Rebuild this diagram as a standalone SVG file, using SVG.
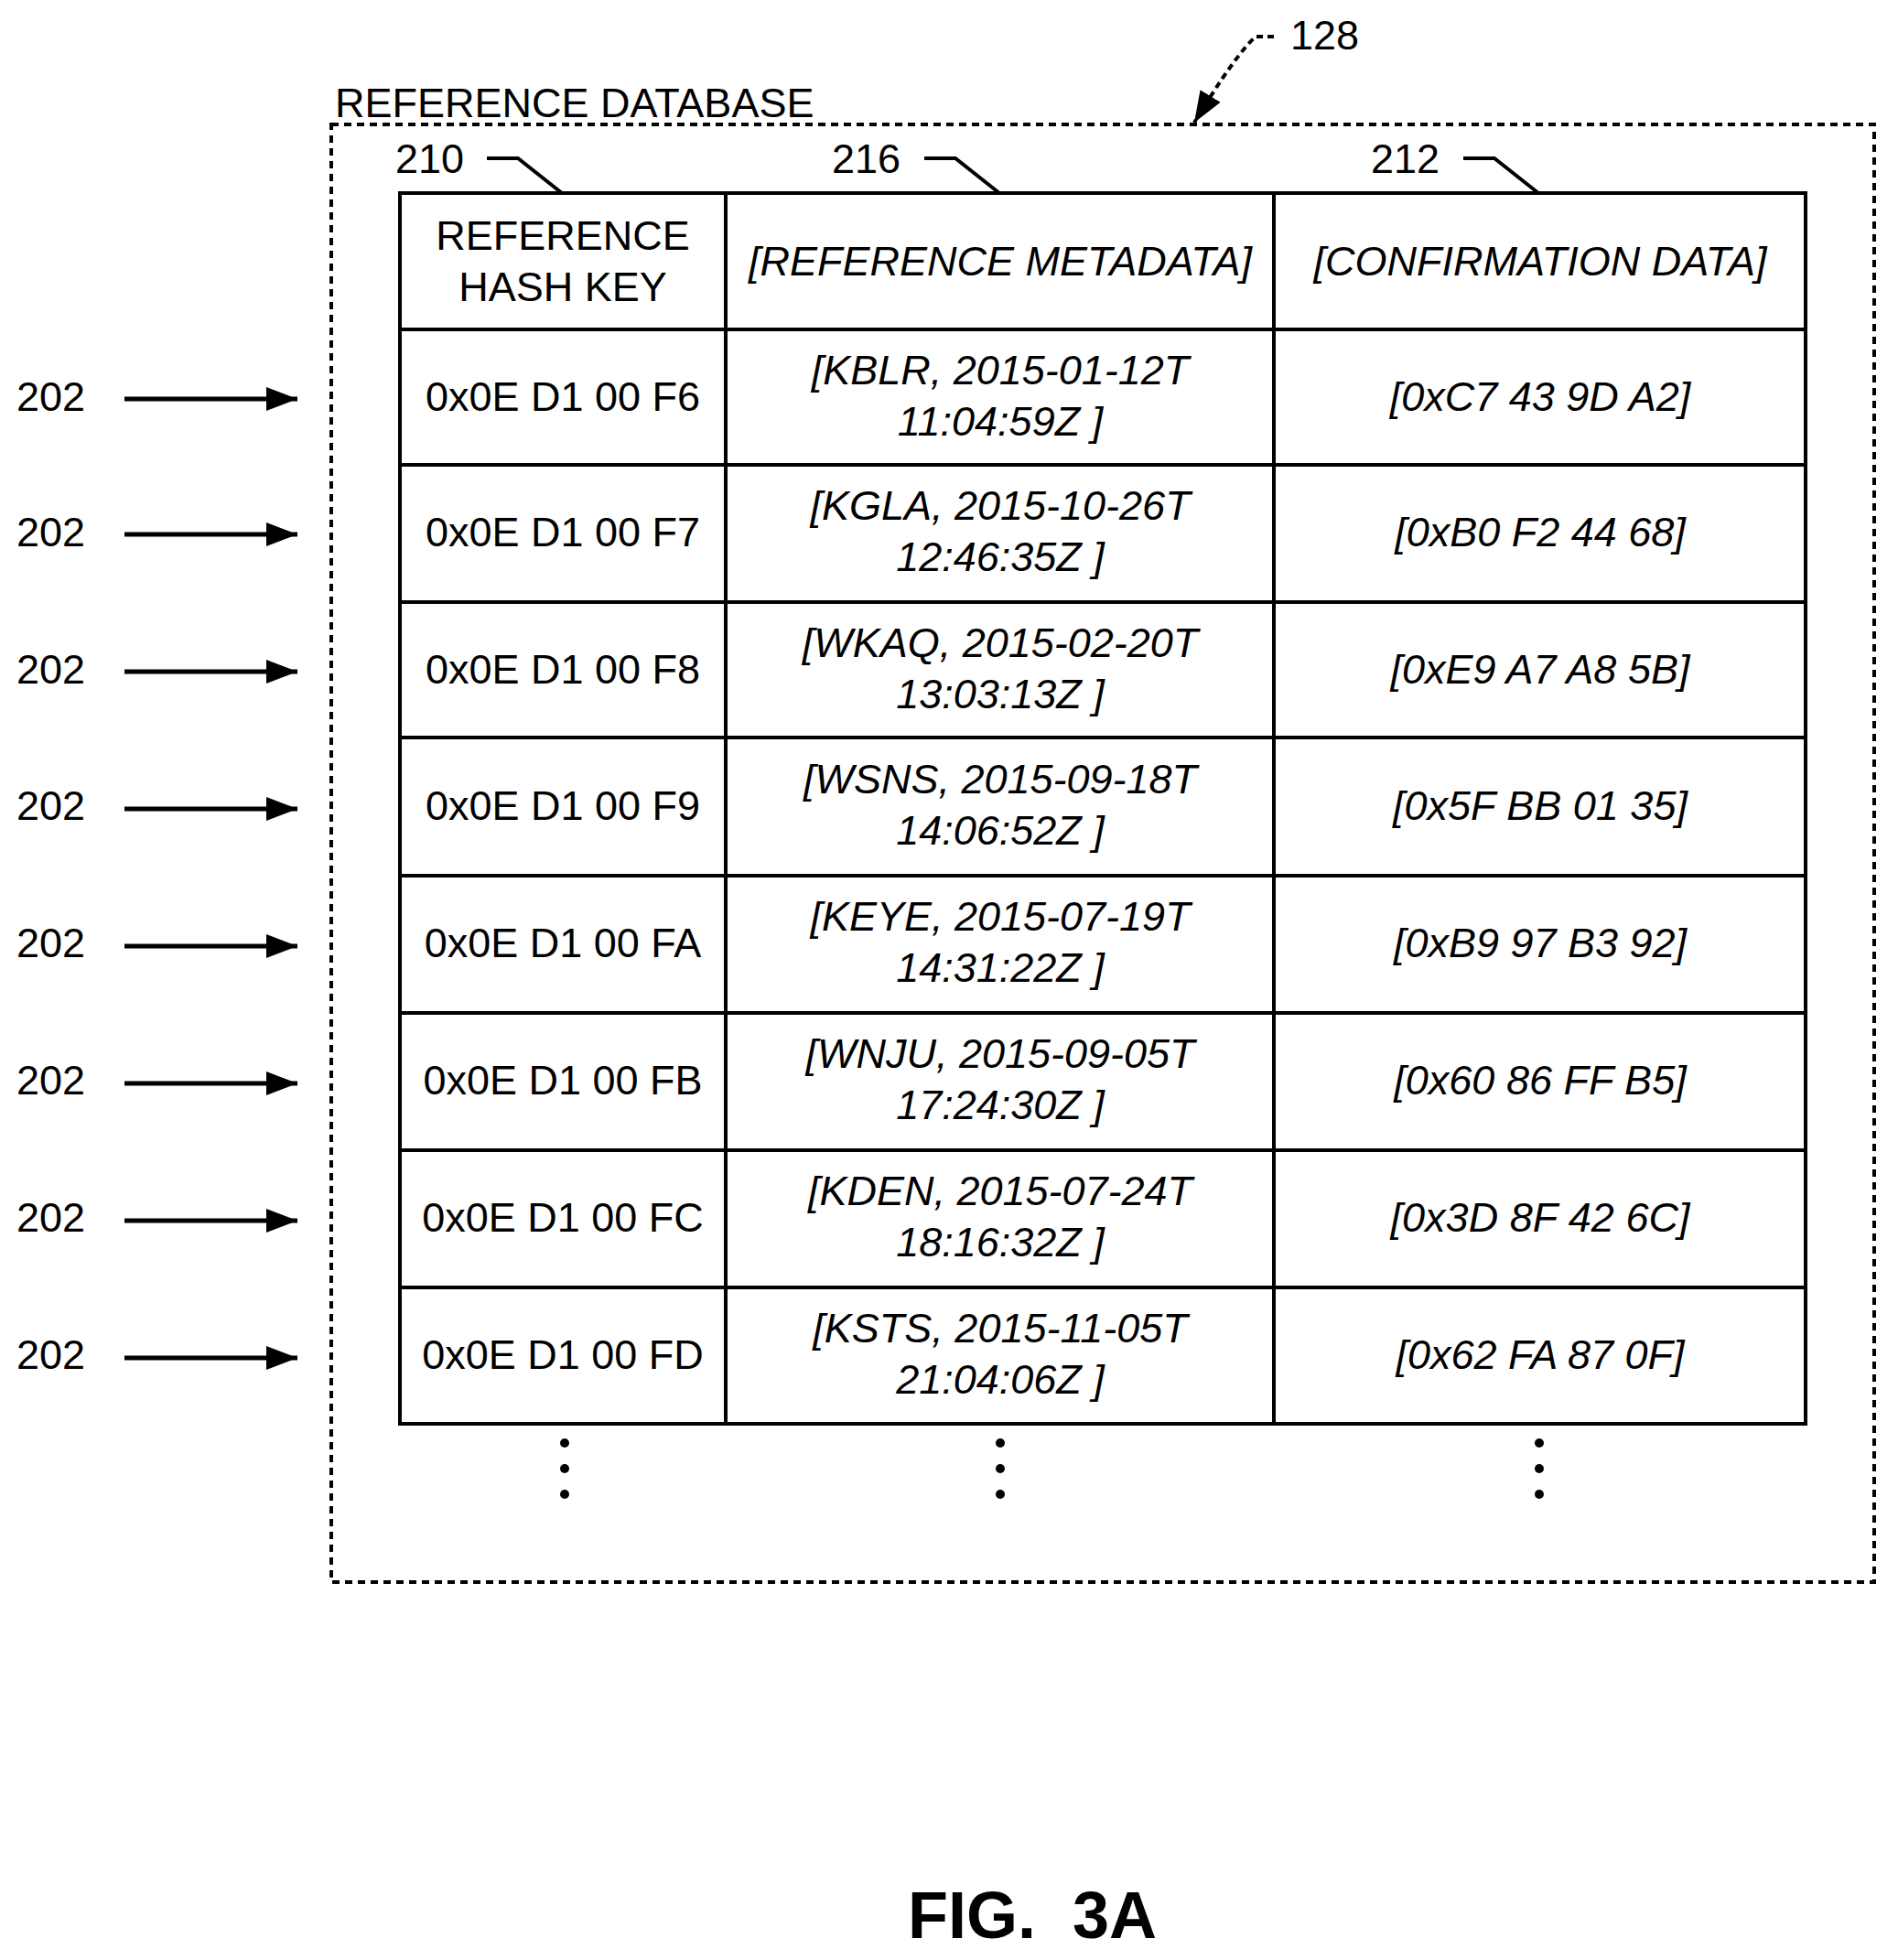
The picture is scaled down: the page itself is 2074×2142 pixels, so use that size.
<svg xmlns="http://www.w3.org/2000/svg" width="2074" height="2142" viewBox="0 0 2074 2142">
<style>
text{font-family:"Liberation Sans",Arial,sans-serif;font-size:45px;fill:#000}
.c{text-anchor:middle}
.i{font-style:italic}
.g line,.g rect{stroke:#000;stroke-width:4;fill:none}
.ln{stroke:#000;stroke-width:4;fill:none}
.ar{stroke:#000;stroke-width:5;fill:none}
</style>
<defs>
<marker id="ah2" viewBox="0 0 10 10" refX="10" refY="5" markerWidth="34" markerHeight="26" orient="auto" markerUnits="userSpaceOnUse" preserveAspectRatio="none"><path d="M0,0 L10,5 L0,10 z" fill="#000"/></marker>
</defs>
<rect width="2074" height="2142" fill="#fff"/>
<g id="database">
<rect x="362" y="136" width="1686" height="1593" fill="none" stroke="#000" stroke-width="4" stroke-dasharray="8,6"/>
<text x="366" y="128">REFERENCE DATABASE</text>
</g>
<g id="ref128">
<text x="1410" y="54">128</text>
<path d="M1392,40 L1372,40 Q1350,60 1305,134" fill="none" stroke="#000" stroke-width="4" stroke-dasharray="7,5" marker-end="url(#ah2)"/>
</g>
<g id="table" class="g">
<rect x="437" y="211" width="1536" height="1345"/>
<line x1="793" y1="211" x2="793" y2="1556"/>
<line x1="1392" y1="211" x2="1392" y2="1556"/>
<line x1="437" y1="360" x2="1973" y2="360"/>
<line x1="437" y1="508" x2="1973" y2="508"/>
<line x1="437" y1="658" x2="1973" y2="658"/>
<line x1="437" y1="806" x2="1973" y2="806"/>
<line x1="437" y1="957" x2="1973" y2="957"/>
<line x1="437" y1="1107" x2="1973" y2="1107"/>
<line x1="437" y1="1257" x2="1973" y2="1257"/>
<line x1="437" y1="1407" x2="1973" y2="1407"/>
</g>
<g id="headers">
<text class="c" x="615" y="273">REFERENCE</text>
<text class="c" x="615" y="329">HASH KEY</text>
<text class="c i" x="1093" y="301">[REFERENCE METADATA]</text>
<text class="c i" x="1683" y="301">[CONFIRMATION DATA]</text>
<text x="432" y="189">210</text>
<text x="909" y="189">216</text>
<text x="1498" y="189">212</text>
<path class="ln" d="M532,173 L566,173 L614,211"/>
<path class="ln" d="M1010,173 L1044,173 L1092,211"/>
<path class="ln" d="M1599,173 L1633,173 L1681,211"/>
</g>
<g id="rows">
<g id="r1"><text class="c" x="615" y="449">0x0E D1 00 F6</text><text class="c i" x="1093" y="420">[KBLR, 2015-01-12T</text><text class="c i" x="1093" y="476">11:04:59Z ]</text><text class="c i" x="1683" y="449">[0xC7 43 9D A2]</text></g>
<g id="r2"><text class="c" x="615" y="597">0x0E D1 00 F7</text><text class="c i" x="1093" y="568">[KGLA, 2015-10-26T</text><text class="c i" x="1093" y="624">12:46:35Z ]</text><text class="c i" x="1683" y="597">[0xB0 F2 44 68]</text></g>
<g id="r3"><text class="c" x="615" y="747">0x0E D1 00 F8</text><text class="c i" x="1093" y="718">[WKAQ, 2015-02-20T</text><text class="c i" x="1093" y="774">13:03:13Z ]</text><text class="c i" x="1683" y="747">[0xE9 A7 A8 5B]</text></g>
<g id="r4"><text class="c" x="615" y="896">0x0E D1 00 F9</text><text class="c i" x="1093" y="867">[WSNS, 2015-09-18T</text><text class="c i" x="1093" y="923">14:06:52Z ]</text><text class="c i" x="1683" y="896">[0x5F BB 01 35]</text></g>
<g id="r5"><text class="c" x="615" y="1046">0x0E D1 00 FA</text><text class="c i" x="1093" y="1017">[KEYE, 2015-07-19T</text><text class="c i" x="1093" y="1073">14:31:22Z ]</text><text class="c i" x="1683" y="1046">[0xB9 97 B3 92]</text></g>
<g id="r6"><text class="c" x="615" y="1196">0x0E D1 00 FB</text><text class="c i" x="1093" y="1167">[WNJU, 2015-09-05T</text><text class="c i" x="1093" y="1223">17:24:30Z ]</text><text class="c i" x="1683" y="1196">[0x60 86 FF B5]</text></g>
<g id="r7"><text class="c" x="615" y="1346">0x0E D1 00 FC</text><text class="c i" x="1093" y="1317">[KDEN, 2015-07-24T</text><text class="c i" x="1093" y="1373">18:16:32Z ]</text><text class="c i" x="1683" y="1346">[0x3D 8F 42 6C]</text></g>
<g id="r8"><text class="c" x="615" y="1496">0x0E D1 00 FD</text><text class="c i" x="1093" y="1467">[KSTS, 2015-11-05T</text><text class="c i" x="1093" y="1523">21:04:06Z ]</text><text class="c i" x="1683" y="1496">[0x62 FA 87 0F]</text></g>
</g>
<g id="labels202">
<text x="18" y="449">202</text><text x="18" y="597">202</text><text x="18" y="747">202</text><text x="18" y="896">202</text>
<text x="18" y="1046">202</text><text x="18" y="1196">202</text><text x="18" y="1346">202</text><text x="18" y="1496">202</text>
</g>
<g id="connectors">
<line class="ar" x1="136" y1="436" x2="325" y2="436" marker-end="url(#ah2)"/>
<line class="ar" x1="136" y1="584" x2="325" y2="584" marker-end="url(#ah2)"/>
<line class="ar" x1="136" y1="734" x2="325" y2="734" marker-end="url(#ah2)"/>
<line class="ar" x1="136" y1="884" x2="325" y2="884" marker-end="url(#ah2)"/>
<line class="ar" x1="136" y1="1034" x2="325" y2="1034" marker-end="url(#ah2)"/>
<line class="ar" x1="136" y1="1184" x2="325" y2="1184" marker-end="url(#ah2)"/>
<line class="ar" x1="136" y1="1334" x2="325" y2="1334" marker-end="url(#ah2)"/>
<line class="ar" x1="136" y1="1484" x2="325" y2="1484" marker-end="url(#ah2)"/>
</g>
<g id="ellipsis" fill="#000">
<circle cx="617" cy="1577" r="5"/><circle cx="617" cy="1605" r="5"/><circle cx="617" cy="1633" r="5"/>
<circle cx="1093" cy="1577" r="5"/><circle cx="1093" cy="1605" r="5"/><circle cx="1093" cy="1633" r="5"/>
<circle cx="1682" cy="1577" r="5"/><circle cx="1682" cy="1605" r="5"/><circle cx="1682" cy="1633" r="5"/>
</g>
<text class="c" x="1128" y="2118" style="font-size:72px;font-weight:bold;white-space:pre" xml:space="preserve">FIG.  3A</text>
</svg>
